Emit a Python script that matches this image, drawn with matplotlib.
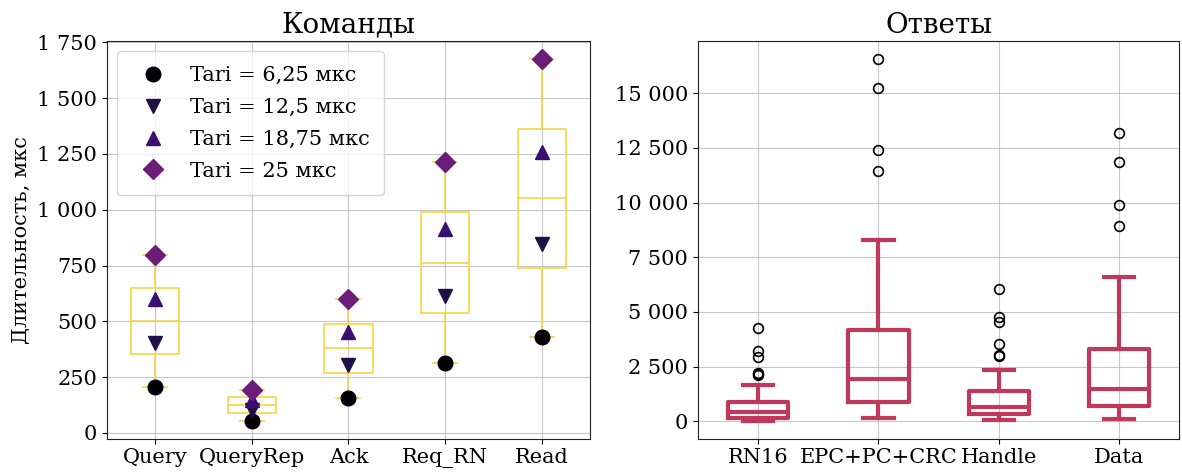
import numpy as np
import matplotlib
matplotlib.use("Agg")
import matplotlib.pyplot as plt
from matplotlib.ticker import FuncFormatter, MultipleLocator

# --- Commands: duration for each Tari value, µs ---
commands = ["Query", "QueryRep", "Ack", "Req_RN", "Read"]
tari_labels = ["Tari = 6,25 мкс", "Tari = 12,5 мкс", "Tari = 18,75 мкс", "Tari = 25 мкс"]
dur_tari_6_25 = [207, 55, 158, 313, 428]
dur_tari_12_5 = [403, 101, 305, 613, 845]
dur_tari_18_75 = [600, 148, 452, 913, 1260]
dur_tari_25 = [797, 194, 600, 1213, 1675]

# --- Replies: box statistics, µs ---
replies = ["RN16", "EPC+PC+CRC", "Handle", "Data"]
reply_whislo = [30, 168, 60, 122]
reply_q1 = [170, 884, 330, 701]
reply_med = [424, 1921, 650, 1494]
reply_q3 = [880, 4177, 1400, 3293]
reply_whishi = [1640, 8293, 2348, 6585]
reply_fliers = [
    [2104, 2165, 2226, 2957, 3232, 4268],
    [11439, 12424, 15242, 16561],
    [2988, 3049, 3522, 4543, 4756, 6037],
    [8909, 9879, 11848, 13167],
]

plt.rcParams["font.family"] = ["DejaVu Serif"]
plt.rcParams["font.size"] = 15

marker_styles = ["o", "v", "^", "D"]
marker_colors = ["#000004", "#1f1147", "#3b0f6f", "#6c1d78"]
gold = "#f8d444"
crimson = "#c0395b"


def spaced(x, pos):
    return "{:,.0f}".format(x).replace(",", " ")


fig = plt.figure(figsize=(11.82, 4.73), dpi=100)
ax1 = fig.add_axes([0.0903, 0.0725, 0.4089, 0.8408])
ax2 = fig.add_axes([0.5905, 0.0725, 0.4072, 0.8408])

for ax in (ax1, ax2):
    ax.grid(True, color="#b0b0b0", linewidth=0.8, alpha=0.7)
    ax.set_axisbelow(True)
    ax.yaxis.set_major_formatter(FuncFormatter(spaced))
    for sp in ax.spines.values():
        sp.set_color("#222222")

# Left panel: box of the four Tari values per command, with the values on top
series = [dur_tari_6_25, dur_tari_12_5, dur_tari_18_75, dur_tari_25]
data = np.array(series).T
positions = np.arange(1, len(commands) + 1)
line_kw = dict(color=gold, linewidth=1.2)
ax1.boxplot(list(data), positions=positions, whis=(0, 100), widths=0.5,
            boxprops=line_kw, whiskerprops=line_kw, capprops=line_kw,
            medianprops=line_kw, showfliers=False)
for vals, mk, col, lab in zip(series, marker_styles, marker_colors, tari_labels):
    ax1.plot(positions, vals, linestyle="none", marker=mk, markersize=10.5,
             color=col, label=lab, zorder=3)
ax1.set_xticks(positions)
ax1.set_xticklabels(commands)
ax1.yaxis.set_major_locator(MultipleLocator(250))
ax1.set_ylabel("Длительность, мкс")
ax1.set_title("Команды", fontsize=20)
ax1.legend(loc="upper left", handletextpad=0.8, borderpad=0.7,
           labelspacing=0.62, borderaxespad=0.5)

# Right panel: reply durations
stats = []
for i, name in enumerate(replies):
    stats.append(dict(label=name, whislo=reply_whislo[i], q1=reply_q1[i],
                      med=reply_med[i], q3=reply_q3[i], whishi=reply_whishi[i],
                      fliers=reply_fliers[i]))
thick = dict(color=crimson, linewidth=3)
ax2.bxp(stats, positions=np.arange(1, len(replies) + 1), widths=0.5,
        boxprops=thick, whiskerprops=thick, capprops=thick, medianprops=thick,
        flierprops=dict(marker="o", markerfacecolor="none",
                        markeredgecolor="black", markersize=7,
                        markeredgewidth=1.2))
ax2.yaxis.set_major_locator(MultipleLocator(2500))
ax2.set_title("Ответы", fontsize=20)

fig.savefig("out.png", dpi=100)
